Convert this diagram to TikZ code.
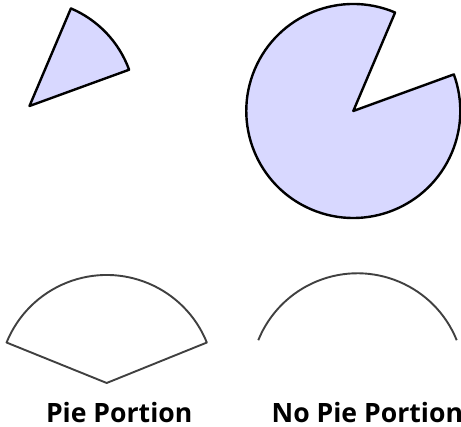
\documentclass[tikz,border=0pt]{standalone}
\usepackage{fontspec}
\setmainfont{Open Sans}
\begin{document}
\begin{tikzpicture}[x=1pt,y=1pt,
  piefill/.style={fill={rgb,255:red,216;green,216;blue,255},draw=black,line width=2.4pt,line join=round},
  pieline/.style={draw=black!75,line width=1.9pt,line join=round},
  caption/.style={inner sep=0pt,font=\bfseries\fontsize{26.6}{32}\selectfont}]
\useasboundingbox (0,0) rectangle (461,427);
\clip (0,0) rectangle (461,427);
% top-left wedge
\coordinate (c1) at (29.5,321);
\draw[piefill] (c1) -- ++(20:106) arc (20:67:106) -- cycle;
% top-right pac-man
\coordinate (c2) at (353.3,316);
\draw[piefill] (c2) -- ++(67:107) arc (67:380:107) -- cycle;
% bottom-left outline
\coordinate (c3) at (106.7,44);
\draw[pieline] (c3) -- ++(22:108) arc (22:158:108) -- cycle;
% bottom-right arc
\coordinate (c4) at (357.5,46.7);
\draw[pieline] (c4) ++(22:107) arc (22:158:107);
% captions
\node[caption,anchor=base] (lab1) at (119.2,4.7) {Pie Portion};
\node[caption,anchor=base west] (lab2) at (271.5,4.7) {No Pie Portion};
\end{tikzpicture}
\end{document}
